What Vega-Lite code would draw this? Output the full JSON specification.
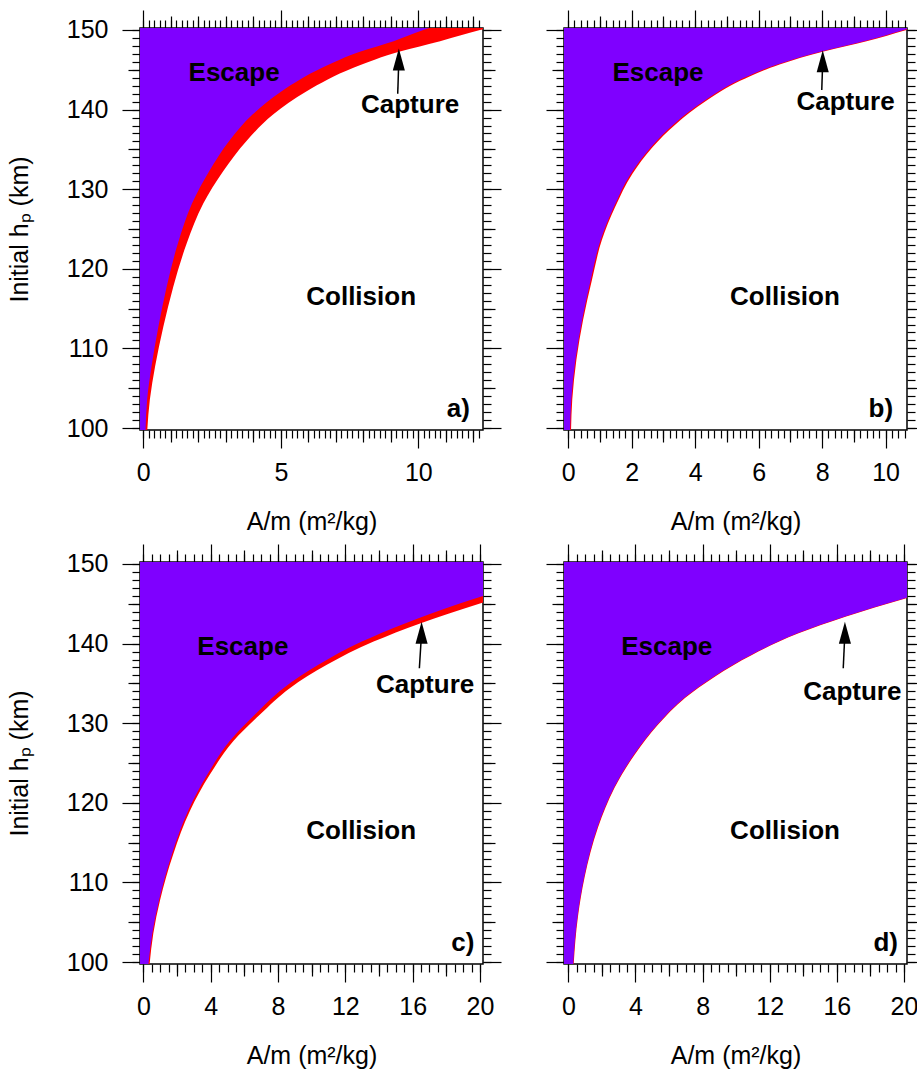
{
  "$schema": "https://vega.github.io/schema/vega-lite/v6.json",
  "padding": {"left": 6, "top": 8, "right": 0, "bottom": 0},
  "bounds": "flush",
  "columns": 2,
  "spacing": {"row": 132, "column": 81},
  "config": {
    "font": "Liberation Sans",
    "view": {"stroke": "black", "strokeWidth": 1.5},
    "axis": {
      "grid": false, "domain": false, "tickColor": "black", "tickWidth": 1.2,
      "labelFont": "Liberation Sans", "labelFontSize": 25, "labelColor": "black",
      "titleFont": "Liberation Sans", "titleFontSize": 25, "titleFontWeight": "normal", "titleColor": "black",
      "labelFlush": false, "labelOverlap": false, "format": "d"
    }
  },
  "datasets": {
    "curves": [
      {"p":"a","h":99.5,"inner":0.08,"outer":0.14},
      {"p":"a","h":103.6,"inner":0.14,"outer":0.24},
      {"p":"a","h":107.75,"inner":0.30,"outer":0.43},
      {"p":"a","h":112.75,"inner":0.55,"outer":0.73},
      {"p":"a","h":117.75,"inner":0.85,"outer":1.09},
      {"p":"a","h":123.2,"inner":1.26,"outer":1.58},
      {"p":"a","h":128.2,"inner":1.77,"outer":2.18},
      {"p":"a","h":132.3,"inner":2.40,"outer":2.91},
      {"p":"a","h":136.1,"inner":3.13,"outer":3.76},
      {"p":"a","h":139.4,"inner":3.98,"outer":4.73},
      {"p":"a","h":142.3,"inner":5.03,"outer":5.94},
      {"p":"a","h":145.25,"inner":6.5,"outer":7.64},
      {"p":"a","h":147.3,"inner":7.9,"outer":9.33},
      {"p":"a","h":148.6,"inner":9.1,"outer":10.79},
      {"p":"a","h":150.0,"inner":10.18,"outer":12.24},
      {"p":"a","h":150.6,"inner":10.7,"outer":12.9},
      {"p":"b","h":99.5,"inner":0.06,"outer":0.09},
      {"p":"b","h":103.58,"inner":0.10,"outer":0.13},
      {"p":"b","h":108.58,"inner":0.23,"outer":0.26},
      {"p":"b","h":113.58,"inner":0.44,"outer":0.47},
      {"p":"b","h":118.58,"inner":0.71,"outer":0.75},
      {"p":"b","h":123.58,"inner":1.02,"outer":1.06},
      {"p":"b","h":127.75,"inner":1.44,"outer":1.48},
      {"p":"b","h":131.92,"inner":1.97,"outer":2.02},
      {"p":"b","h":135.25,"inner":2.60,"outer":2.65},
      {"p":"b","h":138.17,"inner":3.33,"outer":3.39},
      {"p":"b","h":141.08,"inner":4.28,"outer":4.34},
      {"p":"b","h":143.58,"inner":5.33,"outer":5.40},
      {"p":"b","h":145.67,"inner":6.59,"outer":6.66},
      {"p":"b","h":147.33,"inner":8.01,"outer":8.08},
      {"p":"b","h":148.58,"inner":9.32,"outer":9.40},
      {"p":"b","h":150.0,"inner":10.58,"outer":10.66},
      {"p":"b","h":150.6,"inner":11.1,"outer":11.2},
      {"p":"c","h":99.5,"inner":0.29,"outer":0.36},
      {"p":"c","h":103.58,"inner":0.53,"outer":0.59},
      {"p":"c","h":107.75,"inner":0.93,"outer":0.99},
      {"p":"c","h":113.58,"inner":1.70,"outer":1.78},
      {"p":"c","h":119.0,"inner":2.66,"outer":2.77},
      {"p":"c","h":123.58,"inner":3.81,"outer":3.96},
      {"p":"c","h":127.75,"inner":5.13,"outer":5.35},
      {"p":"c","h":131.08,"inner":6.63,"outer":6.93},
      {"p":"c","h":134.42,"inner":8.34,"outer":8.72},
      {"p":"c","h":137.33,"inner":10.4,"outer":10.9},
      {"p":"c","h":140.25,"inner":12.98,"outer":13.68},
      {"p":"c","h":142.54,"inner":15.54,"outer":16.44},
      {"p":"c","h":145.04,"inner":18.8,"outer":20.0},
      {"p":"c","h":147.5,"inner":22.5,"outer":23.8},
      {"p":"c","h":150.5,"inner":27.2,"outer":28.6},
      {"p":"d","h":99.5,"inner":0.28,"outer":0.31},
      {"p":"d","h":105.67,"inner":0.54,"outer":0.57},
      {"p":"d","h":110.67,"inner":0.94,"outer":0.97},
      {"p":"d","h":116.92,"inner":1.73,"outer":1.77},
      {"p":"d","h":121.92,"inner":2.72,"outer":2.76},
      {"p":"d","h":126.08,"inner":3.91,"outer":3.96},
      {"p":"d","h":129.83,"inner":5.30,"outer":5.35},
      {"p":"d","h":133.17,"inner":6.89,"outer":6.95},
      {"p":"d","h":135.88,"inner":8.68,"outer":8.75},
      {"p":"d","h":138.58,"inner":10.87,"outer":10.94},
      {"p":"d","h":141.29,"inner":13.64,"outer":13.72},
      {"p":"d","h":143.38,"inner":16.43,"outer":16.51},
      {"p":"d","h":145.67,"inner":20.0,"outer":20.09},
      {"p":"d","h":148.0,"inner":23.8,"outer":23.9},
      {"p":"d","h":150.5,"inner":28.0,"outer":28.1}
    ],
    "notes": [
      {"p":"a","t":"Escape","x":3.30,"y":144.6},
      {"p":"a","t":"Capture","x":9.70,"y":140.6},
      {"p":"a","t":"Collision","x":7.92,"y":116.4},
      {"p":"a","t":"a)","x":11.45,"y":102.4},
      {"p":"b","t":"Escape","x":2.83,"y":144.6},
      {"p":"b","t":"Capture","x":8.74,"y":140.9},
      {"p":"b","t":"Collision","x":6.83,"y":116.4},
      {"p":"b","t":"b)","x":9.85,"y":102.4},
      {"p":"c","t":"Escape","x":5.91,"y":139.6},
      {"p":"c","t":"Capture","x":16.74,"y":134.8},
      {"p":"c","t":"Collision","x":12.94,"y":116.4},
      {"p":"c","t":"c)","x":18.98,"y":102.4},
      {"p":"d","t":"Escape","x":5.86,"y":139.6},
      {"p":"d","t":"Capture","x":16.92,"y":133.9},
      {"p":"d","t":"Collision","x":12.91,"y":116.4},
      {"p":"d","t":"d)","x":18.91,"y":102.4}
    ],
    "arrows": [
      {"p":"a","x":9.25,"y":142.0,"hx":9.29,"hy":146.28},
      {"p":"b","x":7.99,"y":142.46,"hx":8.02,"hy":146.08},
      {"p":"c","x":16.4,"y":136.9,"hx":16.53,"hy":141.37},
      {"p":"d","x":16.38,"y":136.9,"hx":16.48,"hy":141.37}
    ]
  },
  "concat": [
    {
      "width": 343, "height": 402,
      "resolve": {"axis": {"x": "independent", "y": "independent"}},
      "layer": [
        {
          "data": {"name": "curves"}, "transform": [{"filter": "datum.p === 'a'"}],
          "mark": {"type": "area", "orient": "horizontal", "interpolate": "monotone", "color": "#ff0000", "clip": true},
          "encoding": {
            "y": {"field": "h", "type": "quantitative", "scale": {"domain": [99.75, 150.25], "nice": false, "zero": false},
              "axis": {"orient": "left", "values": [100,110,120,130,140,150], "title": "Initial hₚ (km)", "tickSize": 18, "labelPadding": 14, "titlePadding": 34}},
            "x": {"field": "outer", "type": "quantitative", "scale": {"domain": [-0.12, 12.35], "nice": false, "zero": false},
              "axis": {"orient": "bottom", "values": [0,5,10], "title": "A/m (m²/kg)", "tickSize": 18, "labelPadding": 12, "titlePadding": 24}},
            "x2": {"datum": -1}
          }
        },
        {
          "data": {"name": "curves"}, "transform": [{"filter": "datum.p === 'a'"}],
          "mark": {"type": "area", "orient": "horizontal", "interpolate": "monotone", "color": "#7f00ff", "clip": true},
          "encoding": {
            "y": {"field": "h", "type": "quantitative", "scale": {"domain": [99.75, 150.25], "nice": false, "zero": false},
              "axis": {"orient": "right", "values": [100,110,120,130,140,150], "labels": false, "title": null, "tickSize": 18}},
            "x": {"field": "inner", "type": "quantitative", "scale": {"domain": [-0.12, 12.35], "nice": false, "zero": false},
              "axis": {"orient": "top", "values": [0,5,10], "labels": false, "title": null, "tickSize": 18}},
            "x2": {"datum": -1}
          }
        },
        {
          "data": {"name": "notes"}, "transform": [{"filter": "datum.p === 'a'"}],
          "mark": {"type": "text", "font": "Liberation Sans", "fontWeight": "bold", "fontSize": 26, "color": "black", "align": "center", "baseline": "middle"},
          "encoding": {
            "x": {"field": "x", "type": "quantitative", "scale": {"domain": [-0.12, 12.35], "nice": false, "zero": false},
              "axis": {"orient": "bottom", "values": [1,2,3,4,6,7,8,9,11,12], "labels": false, "title": null, "tickSize": 12}},
            "y": {"field": "y", "type": "quantitative", "scale": {"domain": [99.75, 150.25], "nice": false, "zero": false},
              "axis": {"orient": "left", "values": [105,115,125,135,145], "labels": false, "title": null, "tickSize": 12}},
            "text": {"field": "t"}
          }
        },
        {
          "data": {"name": "arrows"}, "transform": [{"filter": "datum.p === 'a'"}],
          "mark": {"type": "rule", "color": "black", "strokeWidth": 1.5},
          "encoding": {
            "x": {"field": "x", "type": "quantitative", "scale": {"domain": [-0.12, 12.35], "nice": false, "zero": false},
              "axis": {"orient": "top", "values": [1,2,3,4,6,7,8,9,11,12], "labels": false, "title": null, "tickSize": 12}},
            "y": {"field": "y", "type": "quantitative", "scale": {"domain": [99.75, 150.25], "nice": false, "zero": false},
              "axis": {"orient": "right", "values": [105,115,125,135,145], "labels": false, "title": null, "tickSize": 12}},
            "x2": {"field": "hx"}, "y2": {"field": "hy"}
          }
        },
        {
          "data": {"name": "arrows"}, "transform": [{"filter": "datum.p === 'a'"}],
          "mark": {"type": "point", "shape": "M0,-1L0.55,1L-0.55,1Z", "filled": true, "color": "black", "size": 484, "opacity": 1},
          "encoding": {
            "x": {"field": "hx", "type": "quantitative", "scale": {"domain": [-0.12, 12.35], "nice": false, "zero": false},
              "axis": {"orient": "bottom", "values": [0,0.2,0.4,0.6,0.8,1,1.2,1.4,1.6,1.8,2,2.2,2.4,2.6,2.8,3,3.2,3.4,3.6,3.8,4,4.2,4.4,4.6,4.8,5,5.2,5.4,5.6,5.8,6,6.2,6.4,6.6,6.8,7,7.2,7.4,7.6,7.8,8,8.2,8.4,8.6,8.8,9,9.2,9.4,9.6,9.8,10,10.2,10.4,10.6,10.8,11,11.2,11.4,11.6,11.8,12,12.2], "labels": false, "title": null, "tickSize": 8}},
            "y": {"field": "hy", "type": "quantitative", "scale": {"domain": [99.75, 150.25], "nice": false, "zero": false},
              "axis": {"orient": "left", "values": [100,101,102,103,104,105,106,107,108,109,110,111,112,113,114,115,116,117,118,119,120,121,122,123,124,125,126,127,128,129,130,131,132,133,134,135,136,137,138,139,140,141,142,143,144,145,146,147,148,149,150], "labels": false, "title": null, "tickSize": 8}}
          }
        },
        {
          "data": {"name": "notes"}, "transform": [{"filter": "datum.p === 'a'"}],
          "mark": {"type": "point", "opacity": 0},
          "encoding": {
            "x": {"field": "x", "type": "quantitative", "scale": {"domain": [-0.12, 12.35], "nice": false, "zero": false},
              "axis": {"orient": "top", "values": [0,0.2,0.4,0.6,0.8,1,1.2,1.4,1.6,1.8,2,2.2,2.4,2.6,2.8,3,3.2,3.4,3.6,3.8,4,4.2,4.4,4.6,4.8,5,5.2,5.4,5.6,5.8,6,6.2,6.4,6.6,6.8,7,7.2,7.4,7.6,7.8,8,8.2,8.4,8.6,8.8,9,9.2,9.4,9.6,9.8,10,10.2,10.4,10.6,10.8,11,11.2,11.4,11.6,11.8,12,12.2], "labels": false, "title": null, "tickSize": 8}},
            "y": {"field": "y", "type": "quantitative", "scale": {"domain": [99.75, 150.25], "nice": false, "zero": false},
              "axis": {"orient": "right", "values": [100,101,102,103,104,105,106,107,108,109,110,111,112,113,114,115,116,117,118,119,120,121,122,123,124,125,126,127,128,129,130,131,132,133,134,135,136,137,138,139,140,141,142,143,144,145,146,147,148,149,150], "labels": false, "title": null, "tickSize": 8}}
          }
        }
      ]
    },
    {
      "width": 343, "height": 402,
      "resolve": {"axis": {"x": "independent", "y": "independent"}},
      "layer": [
        {
          "data": {"name": "curves"}, "transform": [{"filter": "datum.p === 'b'"}],
          "mark": {"type": "area", "orient": "horizontal", "interpolate": "monotone", "color": "#ff0000", "clip": true},
          "encoding": {
            "y": {"field": "h", "type": "quantitative", "scale": {"domain": [99.75, 150.25], "nice": false, "zero": false},
              "axis": {"orient": "left", "values": [100,110,120,130,140,150], "labels": false, "title": null, "tickSize": 18}},
            "x": {"field": "outer", "type": "quantitative", "scale": {"domain": [-0.13, 10.675], "nice": false, "zero": false},
              "axis": {"orient": "bottom", "values": [0,2,4,6,8,10], "title": "A/m (m²/kg)", "tickSize": 18, "labelPadding": 12, "titlePadding": 24}},
            "x2": {"datum": -1}
          }
        },
        {
          "data": {"name": "curves"}, "transform": [{"filter": "datum.p === 'b'"}],
          "mark": {"type": "area", "orient": "horizontal", "interpolate": "monotone", "color": "#7f00ff", "clip": true},
          "encoding": {
            "y": {"field": "h", "type": "quantitative", "scale": {"domain": [99.75, 150.25], "nice": false, "zero": false},
              "axis": {"orient": "right", "values": [100,110,120,130,140,150], "labels": false, "title": null, "tickSize": 18}},
            "x": {"field": "inner", "type": "quantitative", "scale": {"domain": [-0.13, 10.675], "nice": false, "zero": false},
              "axis": {"orient": "top", "values": [0,2,4,6,8,10], "labels": false, "title": null, "tickSize": 18}},
            "x2": {"datum": -1}
          }
        },
        {
          "data": {"name": "notes"}, "transform": [{"filter": "datum.p === 'b'"}],
          "mark": {"type": "text", "font": "Liberation Sans", "fontWeight": "bold", "fontSize": 26, "color": "black", "align": "center", "baseline": "middle"},
          "encoding": {
            "x": {"field": "x", "type": "quantitative", "scale": {"domain": [-0.13, 10.675], "nice": false, "zero": false},
              "axis": {"orient": "bottom", "values": [1,3,5,7,9], "labels": false, "title": null, "tickSize": 12}},
            "y": {"field": "y", "type": "quantitative", "scale": {"domain": [99.75, 150.25], "nice": false, "zero": false},
              "axis": {"orient": "left", "values": [105,115,125,135,145], "labels": false, "title": null, "tickSize": 12}},
            "text": {"field": "t"}
          }
        },
        {
          "data": {"name": "arrows"}, "transform": [{"filter": "datum.p === 'b'"}],
          "mark": {"type": "rule", "color": "black", "strokeWidth": 1.5},
          "encoding": {
            "x": {"field": "x", "type": "quantitative", "scale": {"domain": [-0.13, 10.675], "nice": false, "zero": false},
              "axis": {"orient": "top", "values": [1,3,5,7,9], "labels": false, "title": null, "tickSize": 12}},
            "y": {"field": "y", "type": "quantitative", "scale": {"domain": [99.75, 150.25], "nice": false, "zero": false},
              "axis": {"orient": "right", "values": [105,115,125,135,145], "labels": false, "title": null, "tickSize": 12}},
            "x2": {"field": "hx"}, "y2": {"field": "hy"}
          }
        },
        {
          "data": {"name": "arrows"}, "transform": [{"filter": "datum.p === 'b'"}],
          "mark": {"type": "point", "shape": "M0,-1L0.55,1L-0.55,1Z", "filled": true, "color": "black", "size": 484, "opacity": 1},
          "encoding": {
            "x": {"field": "hx", "type": "quantitative", "scale": {"domain": [-0.13, 10.675], "nice": false, "zero": false},
              "axis": {"orient": "bottom", "values": [0,0.2,0.4,0.6,0.8,1,1.2,1.4,1.6,1.8,2,2.2,2.4,2.6,2.8,3,3.2,3.4,3.6,3.8,4,4.2,4.4,4.6,4.8,5,5.2,5.4,5.6,5.8,6,6.2,6.4,6.6,6.8,7,7.2,7.4,7.6,7.8,8,8.2,8.4,8.6,8.8,9,9.2,9.4,9.6,9.8,10,10.2,10.4,10.6], "labels": false, "title": null, "tickSize": 8}},
            "y": {"field": "hy", "type": "quantitative", "scale": {"domain": [99.75, 150.25], "nice": false, "zero": false},
              "axis": {"orient": "left", "values": [100,101,102,103,104,105,106,107,108,109,110,111,112,113,114,115,116,117,118,119,120,121,122,123,124,125,126,127,128,129,130,131,132,133,134,135,136,137,138,139,140,141,142,143,144,145,146,147,148,149,150], "labels": false, "title": null, "tickSize": 8}}
          }
        },
        {
          "data": {"name": "notes"}, "transform": [{"filter": "datum.p === 'b'"}],
          "mark": {"type": "point", "opacity": 0},
          "encoding": {
            "x": {"field": "x", "type": "quantitative", "scale": {"domain": [-0.13, 10.675], "nice": false, "zero": false},
              "axis": {"orient": "top", "values": [0,0.2,0.4,0.6,0.8,1,1.2,1.4,1.6,1.8,2,2.2,2.4,2.6,2.8,3,3.2,3.4,3.6,3.8,4,4.2,4.4,4.6,4.8,5,5.2,5.4,5.6,5.8,6,6.2,6.4,6.6,6.8,7,7.2,7.4,7.6,7.8,8,8.2,8.4,8.6,8.8,9,9.2,9.4,9.6,9.8,10,10.2,10.4,10.6], "labels": false, "title": null, "tickSize": 8}},
            "y": {"field": "y", "type": "quantitative", "scale": {"domain": [99.75, 150.25], "nice": false, "zero": false},
              "axis": {"orient": "right", "values": [100,101,102,103,104,105,106,107,108,109,110,111,112,113,114,115,116,117,118,119,120,121,122,123,124,125,126,127,128,129,130,131,132,133,134,135,136,137,138,139,140,141,142,143,144,145,146,147,148,149,150], "labels": false, "title": null, "tickSize": 8}}
          }
        }
      ]
    },
    {
      "width": 343, "height": 402,
      "resolve": {"axis": {"x": "independent", "y": "independent"}},
      "layer": [
        {
          "data": {"name": "curves"}, "transform": [{"filter": "datum.p === 'c'"}],
          "mark": {"type": "area", "orient": "horizontal", "interpolate": "monotone", "color": "#ff0000", "clip": true},
          "encoding": {
            "y": {"field": "h", "type": "quantitative", "scale": {"domain": [99.75, 150.25], "nice": false, "zero": false},
              "axis": {"orient": "left", "values": [100,110,120,130,140,150], "title": "Initial hₚ (km)", "tickSize": 18, "labelPadding": 14, "titlePadding": 34}},
            "x": {"field": "outer", "type": "quantitative", "scale": {"domain": [-0.2, 20.18], "nice": false, "zero": false},
              "axis": {"orient": "bottom", "values": [0,4,8,12,16,20], "title": "A/m (m²/kg)", "tickSize": 18, "labelPadding": 12, "titlePadding": 24}},
            "x2": {"datum": -1}
          }
        },
        {
          "data": {"name": "curves"}, "transform": [{"filter": "datum.p === 'c'"}],
          "mark": {"type": "area", "orient": "horizontal", "interpolate": "monotone", "color": "#7f00ff", "clip": true},
          "encoding": {
            "y": {"field": "h", "type": "quantitative", "scale": {"domain": [99.75, 150.25], "nice": false, "zero": false},
              "axis": {"orient": "right", "values": [100,110,120,130,140,150], "labels": false, "title": null, "tickSize": 18}},
            "x": {"field": "inner", "type": "quantitative", "scale": {"domain": [-0.2, 20.18], "nice": false, "zero": false},
              "axis": {"orient": "top", "values": [0,4,8,12,16,20], "labels": false, "title": null, "tickSize": 18}},
            "x2": {"datum": -1}
          }
        },
        {
          "data": {"name": "notes"}, "transform": [{"filter": "datum.p === 'c'"}],
          "mark": {"type": "text", "font": "Liberation Sans", "fontWeight": "bold", "fontSize": 26, "color": "black", "align": "center", "baseline": "middle"},
          "encoding": {
            "x": {"field": "x", "type": "quantitative", "scale": {"domain": [-0.2, 20.18], "nice": false, "zero": false},
              "axis": {"orient": "bottom", "values": [2,6,10,14,18], "labels": false, "title": null, "tickSize": 12}},
            "y": {"field": "y", "type": "quantitative", "scale": {"domain": [99.75, 150.25], "nice": false, "zero": false},
              "axis": {"orient": "left", "values": [105,115,125,135,145], "labels": false, "title": null, "tickSize": 12}},
            "text": {"field": "t"}
          }
        },
        {
          "data": {"name": "arrows"}, "transform": [{"filter": "datum.p === 'c'"}],
          "mark": {"type": "rule", "color": "black", "strokeWidth": 1.5},
          "encoding": {
            "x": {"field": "x", "type": "quantitative", "scale": {"domain": [-0.2, 20.18], "nice": false, "zero": false},
              "axis": {"orient": "top", "values": [2,6,10,14,18], "labels": false, "title": null, "tickSize": 12}},
            "y": {"field": "y", "type": "quantitative", "scale": {"domain": [99.75, 150.25], "nice": false, "zero": false},
              "axis": {"orient": "right", "values": [105,115,125,135,145], "labels": false, "title": null, "tickSize": 12}},
            "x2": {"field": "hx"}, "y2": {"field": "hy"}
          }
        },
        {
          "data": {"name": "arrows"}, "transform": [{"filter": "datum.p === 'c'"}],
          "mark": {"type": "point", "shape": "M0,-1L0.55,1L-0.55,1Z", "filled": true, "color": "black", "size": 484, "opacity": 1},
          "encoding": {
            "x": {"field": "hx", "type": "quantitative", "scale": {"domain": [-0.2, 20.18], "nice": false, "zero": false},
              "axis": {"orient": "bottom", "values": [0,0.5,1,1.5,2,2.5,3,3.5,4,4.5,5,5.5,6,6.5,7,7.5,8,8.5,9,9.5,10,10.5,11,11.5,12,12.5,13,13.5,14,14.5,15,15.5,16,16.5,17,17.5,18,18.5,19,19.5,20], "labels": false, "title": null, "tickSize": 8}},
            "y": {"field": "hy", "type": "quantitative", "scale": {"domain": [99.75, 150.25], "nice": false, "zero": false},
              "axis": {"orient": "left", "values": [100,101,102,103,104,105,106,107,108,109,110,111,112,113,114,115,116,117,118,119,120,121,122,123,124,125,126,127,128,129,130,131,132,133,134,135,136,137,138,139,140,141,142,143,144,145,146,147,148,149,150], "labels": false, "title": null, "tickSize": 8}}
          }
        },
        {
          "data": {"name": "notes"}, "transform": [{"filter": "datum.p === 'c'"}],
          "mark": {"type": "point", "opacity": 0},
          "encoding": {
            "x": {"field": "x", "type": "quantitative", "scale": {"domain": [-0.2, 20.18], "nice": false, "zero": false},
              "axis": {"orient": "top", "values": [0,0.5,1,1.5,2,2.5,3,3.5,4,4.5,5,5.5,6,6.5,7,7.5,8,8.5,9,9.5,10,10.5,11,11.5,12,12.5,13,13.5,14,14.5,15,15.5,16,16.5,17,17.5,18,18.5,19,19.5,20], "labels": false, "title": null, "tickSize": 8}},
            "y": {"field": "y", "type": "quantitative", "scale": {"domain": [99.75, 150.25], "nice": false, "zero": false},
              "axis": {"orient": "right", "values": [100,101,102,103,104,105,106,107,108,109,110,111,112,113,114,115,116,117,118,119,120,121,122,123,124,125,126,127,128,129,130,131,132,133,134,135,136,137,138,139,140,141,142,143,144,145,146,147,148,149,150], "labels": false, "title": null, "tickSize": 8}}
          }
        }
      ]
    },
    {
      "width": 343, "height": 402,
      "resolve": {"axis": {"x": "independent", "y": "independent"}},
      "layer": [
        {
          "data": {"name": "curves"}, "transform": [{"filter": "datum.p === 'd'"}],
          "mark": {"type": "area", "orient": "horizontal", "interpolate": "monotone", "color": "#ff0000", "clip": true},
          "encoding": {
            "y": {"field": "h", "type": "quantitative", "scale": {"domain": [99.75, 150.25], "nice": false, "zero": false},
              "axis": {"orient": "left", "values": [100,110,120,130,140,150], "labels": false, "title": null, "tickSize": 18}},
            "x": {"field": "outer", "type": "quantitative", "scale": {"domain": [-0.26, 20.18], "nice": false, "zero": false},
              "axis": {"orient": "bottom", "values": [0,4,8,12,16,20], "title": "A/m (m²/kg)", "tickSize": 18, "labelPadding": 12, "titlePadding": 24}},
            "x2": {"datum": -1}
          }
        },
        {
          "data": {"name": "curves"}, "transform": [{"filter": "datum.p === 'd'"}],
          "mark": {"type": "area", "orient": "horizontal", "interpolate": "monotone", "color": "#7f00ff", "clip": true},
          "encoding": {
            "y": {"field": "h", "type": "quantitative", "scale": {"domain": [99.75, 150.25], "nice": false, "zero": false},
              "axis": {"orient": "right", "values": [100,110,120,130,140,150], "labels": false, "title": null, "tickSize": 18}},
            "x": {"field": "inner", "type": "quantitative", "scale": {"domain": [-0.26, 20.18], "nice": false, "zero": false},
              "axis": {"orient": "top", "values": [0,4,8,12,16,20], "labels": false, "title": null, "tickSize": 18}},
            "x2": {"datum": -1}
          }
        },
        {
          "data": {"name": "notes"}, "transform": [{"filter": "datum.p === 'd'"}],
          "mark": {"type": "text", "font": "Liberation Sans", "fontWeight": "bold", "fontSize": 26, "color": "black", "align": "center", "baseline": "middle"},
          "encoding": {
            "x": {"field": "x", "type": "quantitative", "scale": {"domain": [-0.26, 20.18], "nice": false, "zero": false},
              "axis": {"orient": "bottom", "values": [2,6,10,14,18], "labels": false, "title": null, "tickSize": 12}},
            "y": {"field": "y", "type": "quantitative", "scale": {"domain": [99.75, 150.25], "nice": false, "zero": false},
              "axis": {"orient": "left", "values": [105,115,125,135,145], "labels": false, "title": null, "tickSize": 12}},
            "text": {"field": "t"}
          }
        },
        {
          "data": {"name": "arrows"}, "transform": [{"filter": "datum.p === 'd'"}],
          "mark": {"type": "rule", "color": "black", "strokeWidth": 1.5},
          "encoding": {
            "x": {"field": "x", "type": "quantitative", "scale": {"domain": [-0.26, 20.18], "nice": false, "zero": false},
              "axis": {"orient": "top", "values": [2,6,10,14,18], "labels": false, "title": null, "tickSize": 12}},
            "y": {"field": "y", "type": "quantitative", "scale": {"domain": [99.75, 150.25], "nice": false, "zero": false},
              "axis": {"orient": "right", "values": [105,115,125,135,145], "labels": false, "title": null, "tickSize": 12}},
            "x2": {"field": "hx"}, "y2": {"field": "hy"}
          }
        },
        {
          "data": {"name": "arrows"}, "transform": [{"filter": "datum.p === 'd'"}],
          "mark": {"type": "point", "shape": "M0,-1L0.55,1L-0.55,1Z", "filled": true, "color": "black", "size": 484, "opacity": 1},
          "encoding": {
            "x": {"field": "hx", "type": "quantitative", "scale": {"domain": [-0.26, 20.18], "nice": false, "zero": false},
              "axis": {"orient": "bottom", "values": [0,0.5,1,1.5,2,2.5,3,3.5,4,4.5,5,5.5,6,6.5,7,7.5,8,8.5,9,9.5,10,10.5,11,11.5,12,12.5,13,13.5,14,14.5,15,15.5,16,16.5,17,17.5,18,18.5,19,19.5,20], "labels": false, "title": null, "tickSize": 8}},
            "y": {"field": "hy", "type": "quantitative", "scale": {"domain": [99.75, 150.25], "nice": false, "zero": false},
              "axis": {"orient": "left", "values": [100,101,102,103,104,105,106,107,108,109,110,111,112,113,114,115,116,117,118,119,120,121,122,123,124,125,126,127,128,129,130,131,132,133,134,135,136,137,138,139,140,141,142,143,144,145,146,147,148,149,150], "labels": false, "title": null, "tickSize": 8}}
          }
        },
        {
          "data": {"name": "notes"}, "transform": [{"filter": "datum.p === 'd'"}],
          "mark": {"type": "point", "opacity": 0},
          "encoding": {
            "x": {"field": "x", "type": "quantitative", "scale": {"domain": [-0.26, 20.18], "nice": false, "zero": false},
              "axis": {"orient": "top", "values": [0,0.5,1,1.5,2,2.5,3,3.5,4,4.5,5,5.5,6,6.5,7,7.5,8,8.5,9,9.5,10,10.5,11,11.5,12,12.5,13,13.5,14,14.5,15,15.5,16,16.5,17,17.5,18,18.5,19,19.5,20], "labels": false, "title": null, "tickSize": 8}},
            "y": {"field": "y", "type": "quantitative", "scale": {"domain": [99.75, 150.25], "nice": false, "zero": false},
              "axis": {"orient": "right", "values": [100,101,102,103,104,105,106,107,108,109,110,111,112,113,114,115,116,117,118,119,120,121,122,123,124,125,126,127,128,129,130,131,132,133,134,135,136,137,138,139,140,141,142,143,144,145,146,147,148,149,150], "labels": false, "title": null, "tickSize": 8}}
          }
        }
      ]
    }
  ]
}
